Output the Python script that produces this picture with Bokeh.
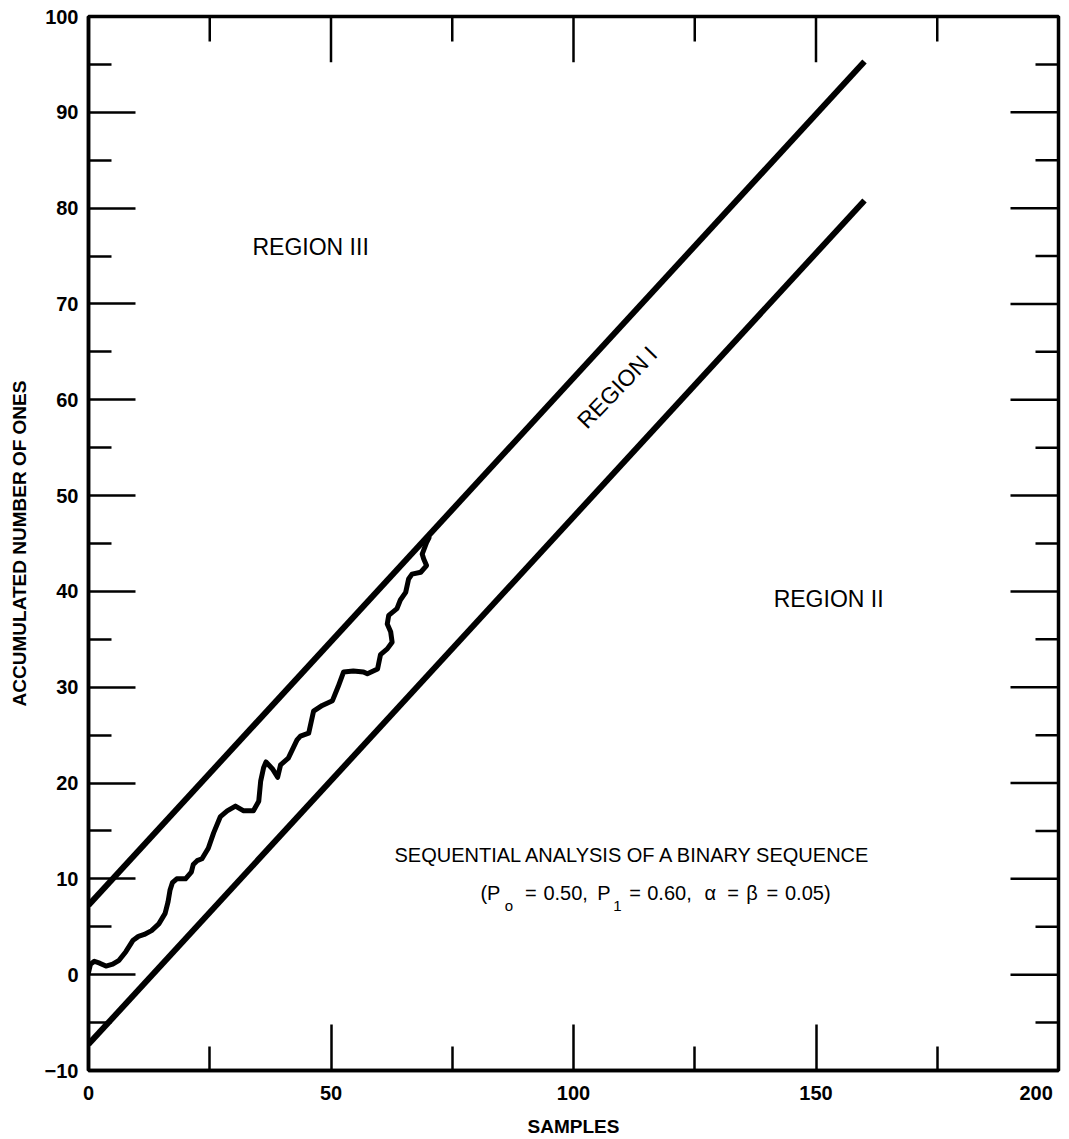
from bokeh.plotting import figure
from bokeh.models import FixedTicker, Range1d, Label
from bokeh.embed import file_html
from bokeh.resources import INLINE

# ---- data -------------------------------------------------------------
# Wald SPRT boundary lines (p0=0.50, p1=0.60, alpha=beta=0.05)
boundary_x = [0, 160]
upper_y = [7.26, 95.3]
lower_y = [-7.26, 80.8]

# accumulated number of ones
curve_x = [0.0, 0.4, 1.2, 2.3, 3.6, 5.0, 6.3, 7.7, 9.2, 10.3, 11.5, 13.0, 14.5,
           15.8, 16.4, 16.8, 17.3, 18.2, 20.0, 21.2, 21.6, 22.4, 23.4, 24.7,
           25.8, 27.2, 28.6, 30.3, 32.0, 34.0, 35.1, 35.5, 36.1, 36.6, 37.9,
           39.0, 39.6, 41.2, 43.0, 43.7, 45.4, 46.4, 48.2, 50.3, 51.5, 52.6,
           54.6, 56.7, 57.5, 59.6, 60.2, 61.6, 62.6, 62.3, 61.6, 61.9, 63.6,
           64.3, 65.4, 66.0, 66.7, 68.5, 69.7, 69.1, 68.8, 69.7, 70.2]
curve_y = [0.2, 1.1, 1.4, 1.2, 0.9, 1.1, 1.5, 2.4, 3.6, 4.0, 4.2, 4.6, 5.3,
           6.4, 7.6, 8.8, 9.6, 10.0, 10.0, 10.7, 11.5, 11.9, 12.1, 13.2,
           14.8, 16.5, 17.1, 17.6, 17.1, 17.1, 18.1, 20.2, 21.6, 22.2, 21.5,
           20.6, 21.9, 22.6, 24.5, 24.9, 25.2, 27.5, 28.1, 28.6, 30.1, 31.6,
           31.7, 31.6, 31.4, 31.9, 33.4, 34.0, 34.7, 35.8, 36.6, 37.5, 38.2,
           39.1, 39.9, 41.3, 41.8, 42.0, 42.7, 43.4, 43.9, 45.1, 45.6]

x_major = [0, 50, 100, 150, 200]
x_minor = [25, 75, 125, 175]
y_major = [-10, 0, 10, 20, 30, 40, 50, 60, 70, 80, 90, 100]
y_minor = [-5, 5, 15, 25, 35, 45, 55, 65, 75, 85, 95]
x_tick_labels = {0: "0", 50: "50", 100: "100", 150: "150",
                 200: "200\u00a0\u00a0\u00a0"}

FONT = "Liberation Sans"
W, H = 1069, 1139
ML, MR, MT, MB = 88, 11, 16, 66
X0, X1, Y0, Y1 = 0, 200, -10, 100

p = figure(width=W, height=H,
           x_range=Range1d(X0, X1), y_range=Range1d(Y0, Y1),
           output_backend="svg", toolbar_location=None,
           min_border_left=ML, min_border_right=MR,
           min_border_top=MT, min_border_bottom=MB)
p.grid.visible = False
p.background_fill_color = "white"
p.border_fill_color = "white"
p.outline_line_color = "black"
p.outline_line_width = 3.5

# data units per screen pixel (for tick lengths on the mirrored sides)
dx = (X1 - X0) / (W - ML - MR)
dy = (Y1 - Y0) / (H - MT - MB)


def style_axis(ax, major_in, minor_in):
    ax.major_tick_in = major_in
    ax.major_tick_out = 0
    ax.minor_tick_in = minor_in
    ax.minor_tick_out = 0
    ax.major_tick_line_width = 2.5
    ax.minor_tick_line_width = 2.5
    ax.major_tick_line_color = "black"
    ax.minor_tick_line_color = "black"
    ax.axis_line_width = 3.5
    ax.axis_line_color = "black"
    ax.major_label_text_font = FONT
    ax.major_label_text_font_style = "bold"
    ax.major_label_text_font_size = "20px"
    ax.major_label_text_color = "black"
    ax.axis_label_text_font = FONT
    ax.axis_label_text_font_style = "bold"
    ax.axis_label_text_font_size = "19px"
    ax.axis_label_text_color = "black"


# bottom axis
xax = p.xaxis[0]
xax.ticker = FixedTicker(ticks=x_major, minor_ticks=x_minor)
xax.major_label_overrides = x_tick_labels
style_axis(xax, 46, 24)
xax.major_label_standoff = 11
xax.axis_label = "SAMPLES"
xax.axis_label_standoff = 9

# left axis
yax = p.yaxis[0]
yax.ticker = FixedTicker(ticks=y_major, minor_ticks=y_minor)
style_axis(yax, 47, 23)
yax.major_label_standoff = 10
yax.axis_label = "ACCUMULATED NUMBER OF ONES"
yax.axis_label_standoff = 12

# right side ticks (mirrors the left axis)
r_y = y_major + y_minor
r_len = [48 * dx] * len(y_major) + [23 * dx] * len(y_minor)
p.segment(x0=[X1] * len(r_y), y0=r_y, x1=[X1 - l for l in r_len], y1=r_y,
          line_color="black", line_width=2.5)

# top side ticks (mirrors the bottom axis)
t_x = x_major[1:-1] + x_minor
t_len = [46 * dy] * len(x_major[1:-1]) + [25 * dy] * len(x_minor)
p.segment(x0=t_x, y0=[Y1] * len(t_x), x1=t_x, y1=[Y1 - l for l in t_len],
          line_color="black", line_width=2.5)

# boundary lines
p.line(boundary_x, upper_y, line_color="black", line_width=6)
p.line(boundary_x, lower_y, line_color="black", line_width=6)

# sample path
p.line(curve_x, curve_y, line_color="black", line_width=5,
       line_join="round", line_cap="round")


def lab(x, y, text, size="20px", angle=0.0, align="center"):
    p.add_layout(Label(x=x, y=y, text=text, text_font=FONT,
                       text_font_size=size, text_color="black",
                       text_align=align, text_baseline="middle",
                       angle=angle, angle_units="deg"))


lab(45.8, 75.9, "REGION III", size="23px")
lab(109.0, 61.3, "REGION I", size="23px", angle=46)
lab(152.6, 39.2, "REGION II", size="23px")
lab(112.4, 12.5, "SEQUENTIAL ANALYSIS OF A BINARY SEQUENCE")

# second caption line, pieced together for the subscripts
y_main, y_sub = 8.5, 7.2
pieces = [(80.8, "(P", False), (85.8, "o", True), (90.0, "=", False),
          (93.8, "0.50,", False), (104.9, "P", False), (108.2, "1", True),
          (111.5, "=", False), (115.2, "0.60,", False), (127.0, "\u03b1", False),
          (131.7, "=", False), (135.6, "\u03b2", False), (139.8, "=", False),
          (143.6, "0.05)", False)]
for px, t, sub in pieces:
    lab(px, y_sub if sub else y_main, t, size="15px" if sub else "20px",
        align="left")

open("out.html", "w").write(file_html(p, INLINE))
